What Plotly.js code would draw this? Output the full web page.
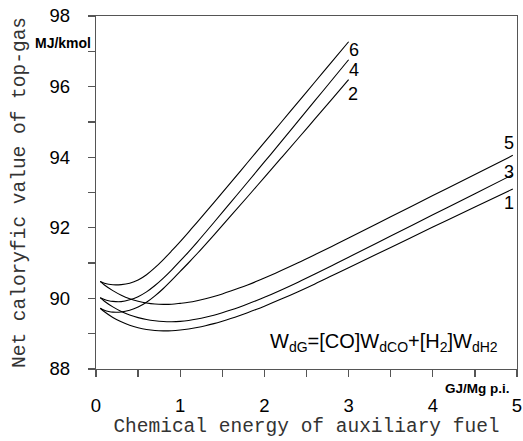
<!DOCTYPE html>
<html>
<head>
<meta charset="utf-8">
<script src="https://cdn.plot.ly/plotly-3.0.1.min.js"></script>
<style>html,body{margin:0;padding:0;background:#fff;}#chart{width:523px;height:441px;}</style>
</head>
<body>
<div id="chart"></div>
<script>
// Steep curves (2, 4, 6)
const xSteep = [0.05,0.1,0.15,0.2,0.3,0.4,0.5,0.6,0.7,0.8,0.9,1.0,1.1,1.2,1.4,1.6,1.8,2.0,2.2,2.4,2.6,2.8,3.0];
const y6 = [90.48,90.43,90.40,90.385,90.39,90.43,90.52,90.67,90.87,91.10,91.35,91.61,91.88,92.155,92.715,93.28,93.85,94.42,94.99,95.56,96.13,96.70,97.27];
const y4 = [90.02,89.97,89.935,89.915,89.91,89.96,90.05,90.185,90.365,90.575,90.81,91.06,91.32,91.59,92.15,92.72,93.29,93.865,94.44,95.02,95.60,96.18,96.76];
const y2 = [89.72,89.665,89.63,89.61,89.615,89.665,89.755,89.89,90.07,90.28,90.515,90.765,91.01,91.265,91.795,92.335,92.88,93.43,93.98,94.53,95.085,95.64,96.195];
// Flat curves (1, 3, 5)
const xFlat = [0.05,0.1,0.2,0.3,0.4,0.5,0.6,0.7,0.8,0.9,1.0,1.1,1.2,1.3,1.4,1.5,1.6,1.7,1.8,1.9,2.0,2.2,2.4,2.6,2.8,3.0,3.5,4.0,4.5,4.95];
const y5 = [90.48,90.38,90.22,90.09,89.99,89.92,89.87,89.84,89.83,89.835,89.86,89.89,89.935,89.99,90.055,90.127,90.207,90.292,90.382,90.477,90.577,90.787,91.007,91.237,91.472,91.712,92.312,92.912,93.512,94.052];
const y3 = [90.02,89.92,89.76,89.63,89.53,89.455,89.40,89.365,89.345,89.34,89.35,89.375,89.415,89.465,89.525,89.595,89.67,89.752,89.84,89.933,90.031,90.241,90.461,90.691,90.927,91.167,91.767,92.367,92.967,93.507];
const y1 = [89.72,89.62,89.46,89.335,89.24,89.17,89.12,89.09,89.08,89.085,89.105,89.135,89.175,89.225,89.285,89.355,89.43,89.51,89.595,89.685,89.78,89.98,90.19,90.41,90.64,90.87,91.445,92.02,92.59,93.10];
// Curve labels
const curveLabels = ["6","4","2","5","3","1"];
const labelX = [3.07,3.07,3.05,4.9,4.9,4.9];
const labelY = [97.05,96.48,95.80,94.40,93.59,92.69];

const lineStyle = {color:'#000', width:1.1};
const traces = [
  {x:xFlat, y:y1, name:'1'},
  {x:xSteep, y:y2, name:'2'},
  {x:xFlat, y:y3, name:'3'},
  {x:xSteep, y:y4, name:'4'},
  {x:xFlat, y:y5, name:'5'},
  {x:xSteep, y:y6, name:'6'}
].map(t => Object.assign(t, {type:'scatter', mode:'lines', line:Object.assign({shape:'spline', smoothing:1}, lineStyle), hoverinfo:'skip'}));

const axisColor = '#555';
const tickFont = {family:'Liberation Sans, Arial, sans-serif', size:18.5, color:'#000'};
const titleFont = {family:'Courier New, Liberation Mono, monospace', size:19.5, color:'#333'};

const annotations = curveLabels.map((t,i) => ({
  x:labelX[i], y:labelY[i], xref:'x', yref:'y', text:t, showarrow:false,
  font:{family:'Liberation Sans, Arial, sans-serif', size:18, color:'#000'}
}));
annotations.push({
  x:-0.0083, y:0.9235, xref:'paper', yref:'paper', xanchor:'right', yanchor:'middle',
  text:'<b>MJ/kmol</b>', showarrow:false,
  font:{family:'Liberation Sans, Arial, sans-serif', size:14, color:'#000'}
});
annotations.push({
  x:0.988, y:-0.054, xref:'paper', yref:'paper', xanchor:'right', yanchor:'middle',
  text:'<b>GJ/Mg p.i.</b>', showarrow:false,
  font:{family:'Liberation Sans, Arial, sans-serif', size:13.5, color:'#000'}
});
annotations.push({
  x:0.96, y:0.075, xref:'paper', yref:'paper', xanchor:'right', yanchor:'middle',
  text:'W<sub>dG</sub>=[CO]W<sub>dCO</sub>+[H<sub>2</sub>]W<sub>dH2</sub>', showarrow:false,
  font:{family:'Liberation Sans, Arial, sans-serif', size:20, color:'#000'}
});

const layout = {
  width:523, height:441,
  margin:{l:95.5, r:5.7, t:16, b:72, pad:0},
  paper_bgcolor:'#fff', plot_bgcolor:'#fff',
  showlegend:false,
  xaxis:{
    range:[0,5], dtick:1, tick0:0, showgrid:false, zeroline:false,
    showline:true, linecolor:axisColor, linewidth:1.3, mirror:true,
    ticks:'outside', ticklen:7, tickwidth:1.3, tickcolor:axisColor,
    minor:{dtick:0.5, ticks:'outside', ticklen:7, tickwidth:1.3, tickcolor:axisColor, showgrid:false},
    tickfont:tickFont, ticklabelstandoff:12,
    title:{text:'Chemical energy of auxiliary fuel', font:titleFont, standoff:2}
  },
  yaxis:{
    range:[88,98], dtick:2, tick0:88, showgrid:false, zeroline:false,
    showline:true, linecolor:axisColor, linewidth:1.3, mirror:true,
    ticks:'outside', ticklen:7, tickwidth:1.3, tickcolor:axisColor,
    minor:{dtick:1, ticks:'outside', ticklen:7, tickwidth:1.3, tickcolor:axisColor, showgrid:false},
    tickfont:tickFont, ticksuffix:'\u2007\u2009',
    title:{text:'Net caloryfic value of top-gas', font:titleFont, standoff:18}
  },
  annotations:annotations
};

Plotly.newPlot('chart', traces, layout, {staticPlot:true, displayModeBar:false});
</script>
</body>
</html>
